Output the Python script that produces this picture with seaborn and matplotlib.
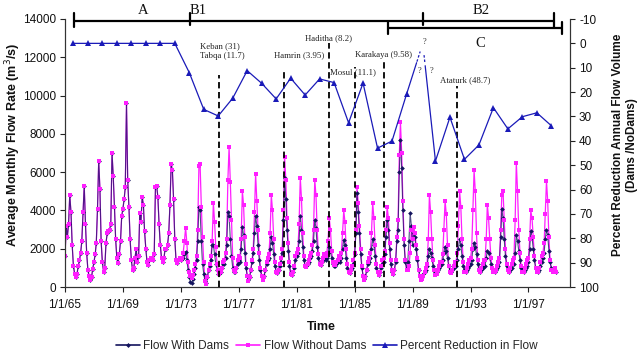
import numpy as np
import pandas as pd
import matplotlib
matplotlib.use("Agg")
import matplotlib.pyplot as plt
import matplotlib.dates as mdates
from matplotlib.lines import Line2D
import seaborn as sns

sns.set_style("ticks")
plt.rcParams["font.family"] = ["Liberation Sans", "DejaVu Sans"]
plt.rcParams["axes.unicode_minus"] = False
SERIF = ["Liberation Serif", "DejaVu Serif"]

# ---------------- data ----------------
first_month = "1965-01-01"

# Flow without dams (m3/s), monthly, Jan 1965 - Dec 1998
flow_without_dams = [
    1600, 3200, 2600, 3300, 4800, 3900, 2200, 1100, 700, 500, 700, 1100,      # 1965
    1400, 1800, 2400, 3900, 5300, 3300, 1800, 900, 550, 370, 500, 950,        # 1966
    1300, 1700, 2300, 4100, 6600, 5100, 2400, 1300, 800, 1000, 2300, 2800,    # 1967
    2900, 3000, 3300, 7000, 5800, 4200, 2500, 1500, 1250, 1700, 2400, 3700,   # 1968
    4100, 4600, 5200, 9600, 5600, 4200, 2500, 1400, 890, 1000, 1500, 2000,    # 1969
    1300, 1600, 3850, 3400, 4700, 4300, 2900, 2000, 1300, 1150, 1400, 1500,   # 1970
    1500, 1400, 1700, 5200, 5300, 4700, 3300, 2200, 1500, 1300, 1500, 2000,   # 1971
    2000, 2200, 2800, 4300, 6400, 6100, 4600, 2500, 1400, 1250, 1400, 1500,   # 1972
    1400, 1500, 1800, 2400, 3100, 2300, 1300, 800, 550, 470, 650, 900,        # 1973
    1200, 1600, 3000, 6300, 6400, 4200, 2600, 1300, 300, 150, 500, 900,       # 1974
    1200, 1600, 2400, 4400, 3400, 2100, 1200, 900, 700, 800, 1000, 1300,      # 1975
    1400, 1800, 2500, 5600, 7300, 5500, 3500, 1500, 900, 800, 1000, 1400,     # 1976
    1600, 1500, 2500, 5000, 4300, 2600, 1200, 600, 300, 500, 900, 1400,       # 1977
    2000, 3900, 5900, 4500, 3000, 1800, 1000, 600, 370, 500, 900, 1300,       # 1978
    1500, 1700, 2800, 4800, 4000, 2500, 1300, 800, 730, 900, 1200, 1500,      # 1979
    2000, 4000, 6800, 5600, 3600, 2300, 1300, 700, 630, 800, 1100, 1600,      # 1980
    1800, 2000, 3300, 5700, 4600, 2800, 1600, 1100, 1060, 1200, 1400, 1600,   # 1981
    1800, 2200, 3000, 5600, 4800, 3000, 1700, 1200, 1150, 1300, 1500, 1700,   # 1982
    1600, 1800, 2400, 3600, 3000, 1900, 1300, 1150, 1150, 1300, 1400, 1600,   # 1983
    1500, 1800, 2800, 4000, 3400, 2000, 1200, 800, 730, 900, 1100, 1400,      # 1984
    1800, 3000, 5200, 4400, 3200, 2000, 1100, 600, 365, 500, 900, 1300,       # 1985
    1500, 1800, 2800, 4400, 3600, 2200, 1200, 800, 630, 800, 1100, 1400,      # 1986
    1500, 1900, 3000, 4200, 3600, 2300, 1400, 900, 700, 900, 1400, 2600,      # 1987
    3500, 6900, 8600, 7000, 4500, 2500, 1400, 900, 890, 1100, 1800, 3000,     # 1988
    2500, 3150, 2800, 2200, 1500, 900, 600, 370, 400, 600, 800, 1000,         # 1989
    1200, 2500, 4800, 3900, 2500, 1400, 900, 630, 700, 900, 1100, 1300,       # 1990
    1300, 1700, 3000, 4500, 3800, 2200, 1100, 800, 730, 900, 1100, 1300,      # 1991
    1300, 1800, 3200, 5000, 4200, 2500, 1300, 800, 800, 1000, 1200, 1400,     # 1992
    1500, 2000, 4000, 6100, 5000, 2800, 1400, 900, 800, 1000, 1200, 1400,     # 1993
    1400, 2500, 4300, 3600, 2500, 1500, 1000, 800, 800, 900, 1100, 1300,      # 1994
    1500, 3000, 4800, 5000, 3500, 2000, 1200, 900, 800, 1000, 1200, 1400,     # 1995
    1500, 3500, 6500, 5000, 3000, 1800, 1100, 800, 800, 1000, 1200, 1400,     # 1996
    1500, 2500, 4000, 3600, 2600, 1600, 1000, 800, 800, 1000, 1300, 1600,     # 1997
    1800, 2300, 3800, 5550, 4500, 2600, 1400, 900, 800, 900, 1000, 800,       # 1998
]

# Flow with dams from Jan 1973 on (identical to "without dams" before 1973)
flow_with_dams_1973_on = [
    1400, 1500, 1500, 1700, 1850, 1400, 900, 500, 250, 200, 400, 700,         # 1973
    1000, 1400, 2400, 4200, 4000, 2400, 1200, 700, 300, 200, 500, 900,        # 1974
    1100, 1400, 2200, 2200, 1700, 1200, 900, 700, 700, 800, 1000, 1200,       # 1975
    1200, 1500, 2200, 3900, 3700, 2500, 1600, 1000, 800, 800, 1000, 1200,     # 1976
    1400, 1300, 2000, 3150, 2700, 1800, 1000, 600, 350, 500, 900, 1300,       # 1977
    1800, 2800, 3700, 3200, 2200, 1400, 900, 600, 500, 600, 900, 1200,        # 1978
    1400, 1500, 2000, 2600, 2300, 1700, 1100, 800, 750, 900, 1100, 1300,      # 1979
    1800, 3500, 5700, 4600, 3000, 1900, 1100, 700, 650, 800, 1000, 1400,      # 1980
    1600, 1800, 2400, 3700, 3000, 2100, 1400, 1100, 1100, 1200, 1300, 1500,   # 1981
    1600, 1900, 2400, 3500, 3100, 2100, 1500, 1200, 1150, 1300, 1400, 1500,   # 1982
    1400, 1500, 1800, 2100, 1900, 1500, 1200, 1100, 1100, 1200, 1300, 1400,   # 1983
    1300, 1500, 2000, 2460, 2200, 1500, 1000, 800, 750, 900, 1000, 1200,      # 1984
    1700, 2800, 4900, 3900, 2800, 1700, 1000, 600, 400, 550, 900, 1200,       # 1985
    1300, 1500, 2000, 2500, 2200, 1600, 1000, 800, 650, 800, 1000, 1200,      # 1986
    1300, 1700, 2600, 3500, 3000, 2000, 1200, 800, 700, 900, 1300, 2400,      # 1987
    3000, 6000, 7700, 6200, 4000, 2200, 1300, 1000, 1300, 2400, 3850, 3200,   # 1988
    2200, 2800, 2600, 2000, 1400, 900, 600, 450, 500, 700, 800, 900,          # 1989
    1100, 1600, 2000, 1800, 1500, 1100, 900, 800, 800, 900, 1000, 1100,       # 1990
    1200, 1400, 1800, 2100, 1900, 1500, 1100, 900, 800, 900, 1000, 1100,      # 1991
    1100, 1400, 2000, 2500, 2200, 1600, 1100, 900, 800, 900, 1000, 1100,      # 1992
    1200, 1400, 2000, 2300, 2100, 1700, 1200, 900, 800, 900, 1000, 1100,      # 1993
    1100, 1500, 1900, 1800, 1500, 1200, 1000, 850, 800, 900, 1000, 1100,      # 1994
    1300, 2600, 4100, 3600, 2500, 1600, 1100, 900, 800, 900, 1000, 1200,      # 1995
    1200, 1800, 2700, 2400, 1900, 1400, 1000, 850, 800, 900, 1000, 1100,      # 1996
    1300, 2000, 2900, 2600, 2000, 1400, 1000, 850, 800, 900, 1100, 1300,      # 1997
    1500, 1800, 2500, 3000, 2700, 1900, 1300, 1000, 900, 900, 900, 800,       # 1998
]

# Percent reduction in annual flow volume (annual, 1965-1998); 1989 unknown
pct_years = list(range(1965, 1999))
pct_reduction = [0, 0, 0, 0, 0, 0, 0, 0,
                 12.0, 27.1, 29.8, 22.5, 11.2, 16.4, 22.8, 14.3, 21.2, 14.6,
                 16.1, 32.6, 16.3, 43.0, 40.1, 20.9,
                 np.nan,
                 48.3, 30.3, 47.6, 41.7, 26.4, 35.1, 30.1, 28.5, 33.8]
pct_1989_guess = 0.0

tick_dates = ["1965-01-01", "1969-01-01", "1973-01-01", "1977-01-01", "1981-01-01",
              "1985-01-01", "1989-01-01", "1993-01-01", "1997-01-01"]
tick_labels = ["1/1/65", "1/1/69", "1/1/73", "1/1/77", "1/1/81",
               "1/1/85", "1/1/89", "1/1/93", "1/1/97"]

dam_labels = ["Keban (31)\nTabqa (11.7)", "Hamrin (3.95)", "Haditha (8.2)",
              "Mosul (11.1)", "Karakaya (9.58)", "Ataturk (48.7)"]
dam_dates = ["1975-08-15", "1980-02-15", "1983-03-15", "1985-01-15",
             "1987-01-01", "1992-02-01"]

# ---------------- derived ----------------
months = pd.date_range(first_month, periods=len(flow_without_dams), freq="MS")
n_pre = len(flow_without_dams) - len(flow_with_dams_1973_on)
flow_with_dams = flow_without_dams[:n_pre] + flow_with_dams_1973_on
pct_dates = pd.to_datetime([f"{y}-08-01" for y in pct_years])
pct_arr = np.array(pct_reduction, dtype=float)

# ---------------- figure ----------------
W, H = 640, 353
fig = plt.figure(figsize=(W / 100, H / 100), dpi=100)
ax = fig.add_axes([65 / W, 66 / H, 505 / W, 268 / H])

C_WITH = "#14145e"
C_WITHOUT = "#ff1eff"
C_PCT = "#1a1ab8"

# lines: magenta below, navy over it; markers: navy below magenta
sns.lineplot(x=months, y=flow_without_dams, ax=ax, color=C_WITHOUT, lw=0.9, zorder=2)
sns.lineplot(x=months, y=flow_with_dams, ax=ax, color=C_WITH, lw=0.8, alpha=0.75, zorder=3)
sns.lineplot(x=months, y=flow_with_dams, ax=ax, color=C_WITH, lw=0,
             marker="D", markersize=2.4, markeredgewidth=0, zorder=4)
sns.lineplot(x=months, y=flow_without_dams, ax=ax, color=C_WITHOUT, lw=0,
             marker="s", markersize=2.6, markeredgewidth=0, zorder=5)

ax.set_xlim(mdates.date2num(pd.Timestamp("1965-01-01")),
            mdates.date2num(pd.Timestamp("1999-11-15")))
ax.set_ylim(0, 14000)
ax.set_yticks(np.arange(0, 14001, 2000))
ax.set_xticks(mdates.date2num(pd.to_datetime(tick_dates)))
ax.set_xticklabels(tick_labels)
ax.tick_params(axis="both", labelsize=8.5, length=3.5, width=0.8, direction="out",
               colors="#222222", labelcolor="#111111")
ax.tick_params(axis="x", pad=5)
ax.tick_params(axis="y", pad=3)
ax.set_xlabel("")
ax.set_ylabel("")
ax.spines["top"].set_visible(False)
for s in ["left", "bottom", "right"]:
    ax.spines[s].set_linewidth(0.8)
    ax.spines[s].set_color("#333333")

# Dam vertical dashed lines and labels
dam_line_tops = [11075, 11340, 12750, 11490, 11860, 10500]
dam_text_pos = [("1974-04-20", 12330, "left"), ("1981-03-01", 12120, "center"),
                ("1983-03-15", 13010, "center"), ("1984-12-01", 11230, "center"),
                ("1987-01-01", 12120, "center"), ("1992-09-01", 10810, "center")]
for lab, d, top, (tx, ty, ha) in zip(dam_labels, dam_dates, dam_line_tops, dam_text_pos):
    xd = mdates.date2num(pd.Timestamp(d))
    ax.plot([xd, xd], [0, top], color="black", lw=1.3, ls=(0, (3.5, 2)), zorder=6)
    ax.text(mdates.date2num(pd.Timestamp(tx)), ty, lab, fontsize=6.3, family=SERIF,
            ha=ha, va="center", color="#222222", linespacing=1.35, zorder=7)

# Period brackets (A, B1, B2, C)
def dn(s):
    return mdates.date2num(pd.Timestamp(s))

yA = 13896
ax.plot([dn("1965-08-15"), dn("1998-10-15")], [yA, yA], color="black", lw=1.6,
        clip_on=False, zorder=8, solid_capstyle="butt")
for d, y0, y1 in [("1965-08-15", 13582, 14314), ("1973-08-15", 13687, 14314),
                  ("1989-09-10", 13687, 14314), ("1998-10-15", 13582, 14314)]:
    ax.plot([dn(d), dn(d)], [y0, y1], color="black", lw=1.6, clip_on=False, zorder=8)
yC = 13530
ax.plot([dn("1987-05-01"), dn("1999-05-01")], [yC, yC], color="black", lw=1.6,
        clip_on=False, zorder=8, solid_capstyle="butt")
for d in ["1987-05-01", "1999-05-01"]:
    ax.plot([dn(d), dn(d)], [13217, 13843], color="black", lw=1.6, clip_on=False, zorder=8)
for txt, d, y in [("A", "1970-05-15", 14470), ("B1", "1974-03-01", 14470),
                  ("B2", "1993-09-20", 14470), ("C", "1993-09-10", 12746)]:
    ax.text(dn(d), y, txt, fontsize=10.5, family=SERIF, ha="center", va="center",
            color="#111111", clip_on=False, zorder=9)

# ---------------- percent axis ----------------
ax2 = ax.twinx()
for sl in (slice(0, 24), slice(25, None)):
    sns.lineplot(x=pct_dates[sl], y=pct_arr[sl], ax=ax2, color=C_PCT, lw=0.9,
                 marker="^", markersize=4.6, markeredgewidth=0, zorder=5)

# uncertain 1989 link
x88, y88 = mdates.date2num(pct_dates[23]), pct_arr[23]
x90, y90 = mdates.date2num(pct_dates[25]), pct_arr[25]
xa, ya = dn("1989-09-15"), pct_1989_guess

def part(xs, ys, xe, ye, t0, t1):
    return [xs + (xe - xs) * t0, xs + (xe - xs) * t1], [ys + (ye - ys) * t0, ys + (ye - ys) * t1]

px, py = part(x88, y88, xa, ya, 0.0, 0.62)
ax2.plot(px, py, color=C_PCT, lw=0.9)
px, py = part(x88, y88, xa, ya, 0.64, 0.84)
ax2.plot(px, py, color=C_PCT, lw=0.9, ls=(0, (2, 1.5)))
px, py = part(xa, ya, x90, y90, 0.10, 0.17)
ax2.plot(px, py, color=C_PCT, lw=0.9, ls=(0, (2, 1.5)))
px, py = part(xa, ya, x90, y90, 0.19, 1.0)
ax2.plot(px, py, color=C_PCT, lw=0.9)
for d, v in [("1989-11-01", -0.5), ("1989-06-25", 11.3), ("1990-04-20", 11.3)]:
    ax2.text(dn(d), v, "?", fontsize=6, family=SERIF, ha="center", va="center", color="#333333")

ax2.set_ylim(100, -10)
ax2.set_yticks(np.arange(-10, 101, 10))
ax2.tick_params(axis="y", labelsize=8.5, length=3.5, width=0.8, direction="out", pad=3,
                colors="#222222", labelcolor="#111111")
ax2.set_ylabel("")
ax2.spines["top"].set_visible(False)
for s in ["left", "bottom", "right"]:
    ax2.spines[s].set_linewidth(0.8)
    ax2.spines[s].set_color("#333333")
ax2.set_xlim(ax.get_xlim())

# ---------------- labels ----------------
fig.text(13 / W, 1 - 145 / H, "Average Monthly Flow Rate (m$^3$/s)", rotation=90,
         ha="center", va="center", fontsize=9, fontweight="bold", color="#111111")
fig.text(625 / W, 1 - 145 / H, "Percent Reduction Annual Flow Volume\n(Dams /NoDams)",
         rotation=90, ha="center", va="center", fontsize=8.5, fontweight="bold",
         multialignment="center", linespacing=1.15, color="#111111")
fig.text(321 / W, 1 - 327 / H, "Time", ha="center", va="center", fontsize=9,
         fontweight="bold", color="#111111")

handles = [
    Line2D([], [], color=C_WITH, lw=1.2, marker="D", markersize=2.5, markeredgewidth=0),
    Line2D([], [], color=C_WITHOUT, lw=1.2, marker="s", markersize=2.8, markeredgewidth=0),
    Line2D([], [], color=C_PCT, lw=1.2, marker="^", markersize=4.5, markeredgewidth=0),
]
for a in (ax, ax2):
    leg = a.get_legend()
    if leg is not None:
        leg.remove()
fig.legend(handles, ["Flow With Dams", "Flow Without Dams", "Percent Reduction in Flow"],
           loc="center", bbox_to_anchor=(327 / W, 1 - 346 / H), ncol=3, frameon=False,
           fontsize=8.5, handlelength=2.0, handletextpad=0.3, columnspacing=0.6,
           borderaxespad=0, borderpad=0)

fig.savefig("out.png", dpi=100)
